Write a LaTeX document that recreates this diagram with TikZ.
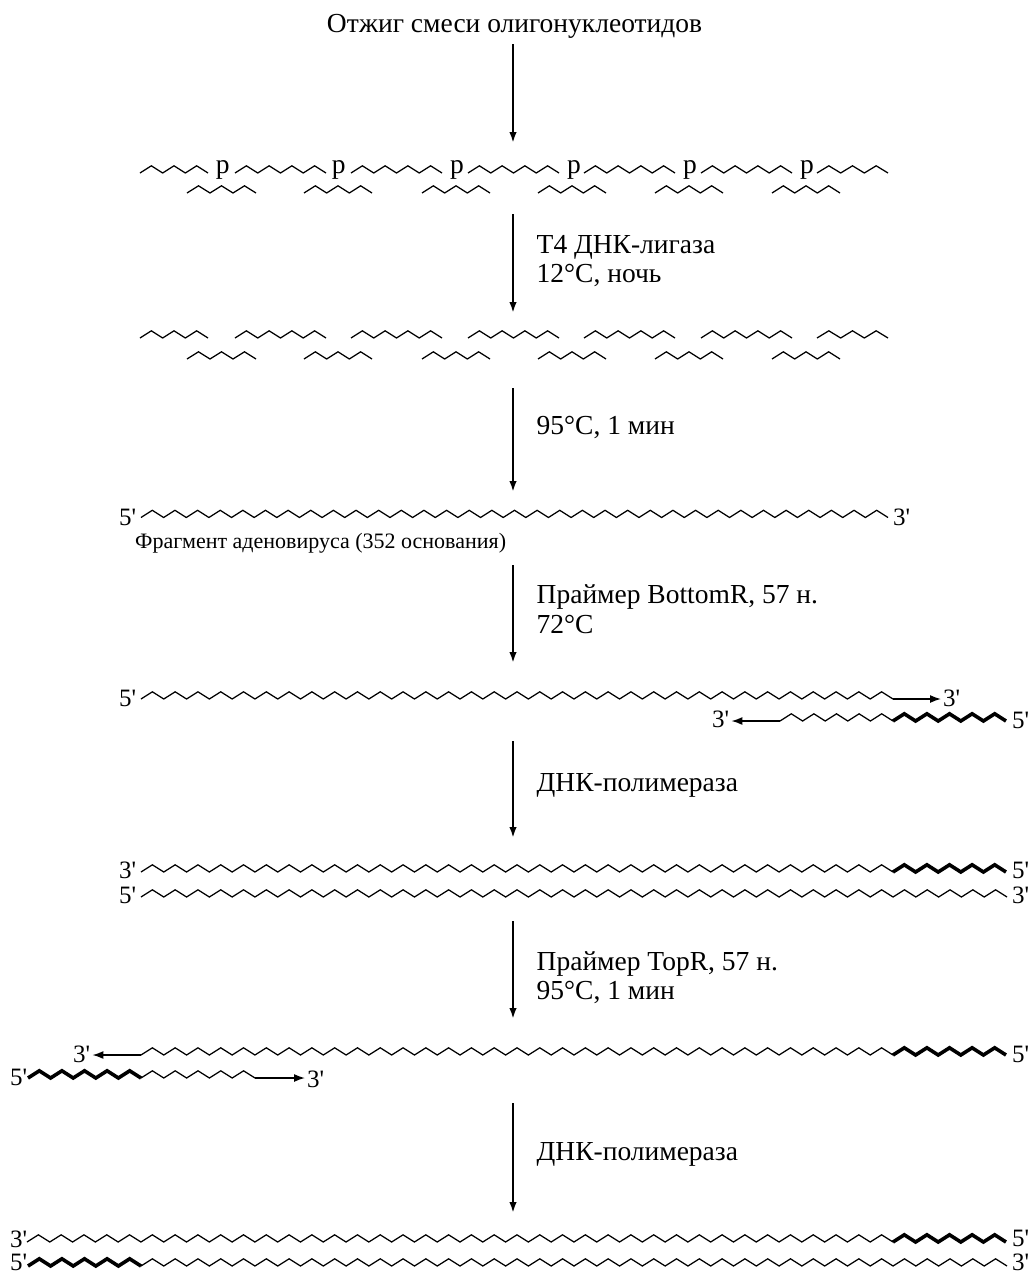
\documentclass[tikz,border=0pt]{standalone}
\usepackage{fontspec}
\usepackage{tikz}
\usetikzlibrary{arrows.meta}
\newfontfamily\labelfont{Liberation Serif}
\tikzset{
    thinstrand/.style={line width=1.25pt, line join=miter},
    thickstrand/.style={line width=3.6pt, line join=miter},
    steparrow/.style={line width=2.6pt, -{Latex[length=11pt,width=7.5pt]}},
    endarrow/.style={line width=1.5pt, shorten >=2pt, -{Latex[length=11pt,width=8pt]}},
    steplabel/.style={anchor=base west, inner sep=0pt},
    endlabel/.style={anchor=base west, inner sep=0pt, font=\labelfont\fontsize{25}{29}\selectfont}
}
% zigzag strand: [style] x0, x1, y of the low points, number of segments
\newcommand{\strand}[5][thinstrand]{%
    \draw[#1] (#2,#4) \foreach \k in {1,...,#5} { -- ({#2+\k/#5*(#3-#2)},{#4-7.2*mod(\k,2)}) };
}
\begin{document}
\begin{tikzpicture}[x=1pt, y=-1pt, every node/.style={font=\labelfont\fontsize{27.5}{30}\selectfont}]
    \useasboundingbox (0, 0) rectangle (1030, 1272);

    \node[anchor=base, inner sep=0pt] (title) at (514.5, 32) {Отжиг смеси олигонуклеотидов};

    % step arrows
    \foreach \n/\ya/\yb in {a1/44/143, a2/214/313, a3/388/492, a4/565/663, a5/741/838, a6/921/1019, a7/1103/1213} {
        \coordinate (\n s) at (513, \ya);
        \coordinate (\n e) at (513, \yb);
        \draw[steparrow] (\n s) -- (\n e);
    }

    % annealed oligonucleotides
    \foreach \xa/\xb/\n in {140/208/6, 235/326/8, 351/442/8, 468/559/8, 584/675/8, 701/792/8, 817/888/6} {
        \strand{\xa}{\xb}{173}{\n}
        \strand{\xa}{\xb}{338}{\n}
    }
    \foreach \xa/\xb in {187/256, 304/372, 422/490, 538/606, 655/723, 772/840} {
        \strand{\xa}{\xb}{193}{6}
        \strand{\xa}{\xb}{359}{6}
    }
    \foreach \n/\x in {p1/222.7, p2/338.7, p3/457, p4/574, p5/690, p6/807} {
        \node[anchor=base, inner sep=0pt] (\n) at (\x, 173) {p};
    }

    \node[steplabel] (ligase) at (536.5, 253) {Т4 ДНК-лигаза};
    \node[steplabel] (ligtemp) at (536.5, 282) {12°C, ночь};
    \node[steplabel] (melt) at (536.5, 434) {95°C, 1 мин};

    % full fragment
    \node[endlabel] (f5) at (119, 525) {5'};
    \strand{141}{888}{517.5}{66}
    \node[endlabel] (f3) at (893, 525) {3'};
    \node[anchor=base west, inner sep=0pt, font=\labelfont\fontsize{22}{26}\selectfont] (frag) at (135, 548) {Фрагмент аденовируса (352 основания)};

    \node[steplabel] (bottomr) at (536.5, 603) {Праймер BottomR, 57 н.};
    \node[steplabel] (bottemp) at (536.5, 633) {72°C};

    % first primer
    \node[endlabel] (b5) at (119, 706) {5'};
    \strand{141}{893}{699}{66}
    \coordinate (b1) at (893, 699);
    \node[endlabel] (b3) at (943, 706) {3'};
    \draw[endarrow] (b1) -- (b3.west |- b1);
    \node[endlabel] (c3) at (712, 727) {3'};
    \coordinate (c1) at (780, 721);
    \draw[endarrow] (c1) -- (c3.east |- c1);
    \strand{780}{893}{721}{10}
    \strand[thickstrand]{893}{1006}{721}{10}
    \node[endlabel] (c5) at (1012, 728) {5'};

    \node[steplabel] (pol1) at (536.5, 791) {ДНК-полимераза};

    % first duplex
    \node[endlabel] (d3) at (119, 878) {3'};
    \strand{141}{893}{872}{66}
    \strand[thickstrand]{893}{1006}{872}{10}
    \node[endlabel] (d5) at (1012, 878) {5'};
    \node[endlabel] (e5) at (119, 903) {5'};
    \strand{141}{1007}{897}{76}
    \node[endlabel] (e3) at (1012, 903) {3'};

    \node[steplabel] (topr) at (536.5, 970) {Праймер TopR, 57 н.};
    \node[steplabel] (toptemp) at (536.5, 999) {95°C, 1 мин};

    % second primer
    \node[endlabel] (g3) at (73, 1062) {3'};
    \coordinate (g1) at (141, 1055);
    \draw[endarrow] (g1) -- (g3.east |- g1);
    \strand{141}{893}{1055}{66}
    \strand[thickstrand]{893}{1006}{1055}{10}
    \node[endlabel] (g5) at (1012, 1062) {5'};
    \node[endlabel] (h5) at (10, 1085) {5'};
    \strand[thickstrand]{28}{141}{1078}{10}
    \strand{141}{255}{1078}{10}
    \coordinate (h1) at (255, 1078);
    \node[endlabel] (h3) at (307, 1087) {3'};
    \draw[endarrow] (h1) -- (h3.west |- h1);

    \node[steplabel] (pol2) at (536.5, 1160) {ДНК-полимераза};

    % final duplex
    \node[endlabel] (k3) at (10, 1247) {3'};
    \strand{27}{893}{1242}{76}
    \strand[thickstrand]{893}{1006}{1242}{10}
    \node[endlabel] (k5) at (1012, 1246) {5'};
    \node[endlabel] (m5) at (10, 1270) {5'};
    \strand[thickstrand]{28}{141}{1266}{10}
    \strand{141}{1007}{1266}{76}
    \node[endlabel] (m3) at (1012, 1270) {3'};
\end{tikzpicture}
\end{document}
